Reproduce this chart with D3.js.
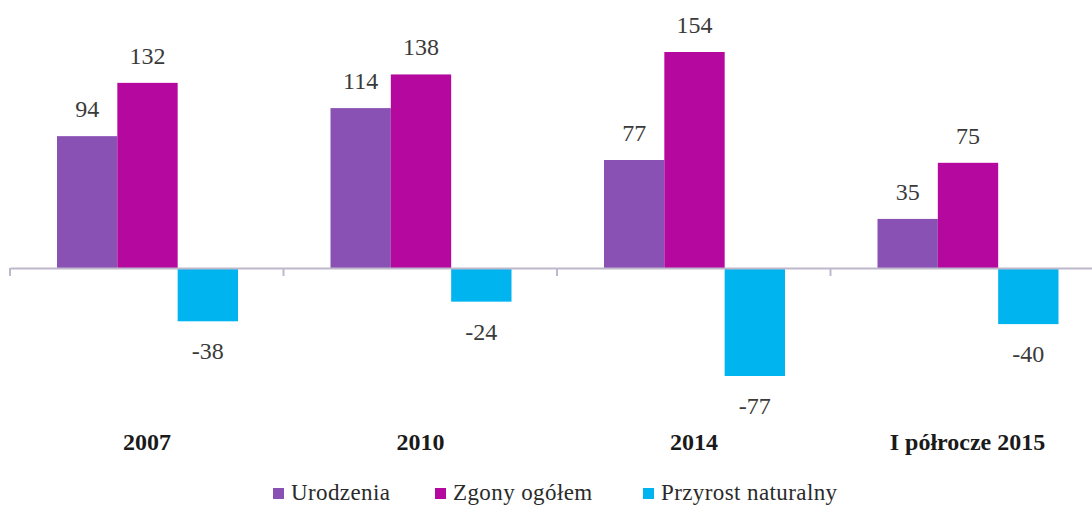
<!DOCTYPE html>
<html>
<head>
<meta charset="utf-8">
<script src="https://cdn.jsdelivr.net/npm/d3@7"></script>
<style>
  body { margin: 0; background: #fff; }
  svg { display: block; }
  text { font-family: "Liberation Serif", "DejaVu Serif", serif; }
</style>
</head>
<body>
<svg id="chart"></svg>
<script>
// data
var categories = ["2007", "2010", "2014", "I półrocze 2015"];
var seriesNames = ["Urodzenia", "Zgony ogółem", "Przyrost naturalny"];
var urodzenia = [94, 114, 77, 35];
var zgony = [132, 138, 154, 75];
var przyrost = [-38, -24, -77, -40];
var colors = ["#8a51b5", "#b5089f", "#00b4f0"];

var width = 1092, height = 506;
var svg = d3.select("#chart").attr("width", width).attr("height", height);

var values = [urodzenia, zgony, przyrost];

var x0 = d3.scaleBand().domain(categories).range([10, 1104]).padding(0);
var x1 = d3.scaleBand().domain(seriesNames).range([47, 228]).padding(0);
var y = d3.scaleLinear().domain([0, 154]).range([268, 52]);

//bars
var groups = svg.selectAll("g.group")
  .data(categories)
  .enter().append("g")
  .attr("class", "group")
  .attr("transform", function (d) { return "translate(" + x0(d) + ",0)"; });

groups.selectAll("rect")
  .data(function (d, i) {
    return seriesNames.map(function (s, j) { return { s: s, v: values[j][i], c: colors[j] }; });
  })
  .enter().append("rect")
  .attr("x", function (d) { return x1(d.s); })
  .attr("width", x1.bandwidth())
  .attr("y", function (d) { return Math.min(y(d.v), y(0)); })
  .attr("height", function (d) { return Math.abs(y(d.v) - y(0)); })
  .attr("fill", function (d) { return d.c; });

groups.selectAll("text.val")
  .data(function (d, i) {
    return seriesNames.map(function (s, j) { return { s: s, v: values[j][i] }; });
  })
  .enter().append("text")
  .attr("class", "val")
  .attr("x", function (d) { return x1(d.s) + x1.bandwidth() / 2; })
  .attr("y", function (d) { return d.v >= 0 ? y(d.v) - 27 : y(d.v) + 30; })
  .attr("text-anchor", "middle")
  .attr("dominant-baseline", "central")
  .attr("font-size", 24)
  .attr("fill", "#3a3a3a")
  .text(function (d) { return d.v; });

//axis at zero
var axis = d3.axisBottom(x0).tickSize(0).tickFormat("");
var ax = svg.append("g").attr("transform", "translate(0," + y(0) + ")").call(axis);
ax.select(".domain").attr("stroke", "#bdb8cc").attr("stroke-width", 2);
ax.selectAll(".tick").remove();
ax.selectAll("line.sep")
  .data(categories)
  .enter().append("line")
  .attr("class", "sep")
  .attr("x1", function (d) { return x0(d); })
  .attr("x2", function (d) { return x0(d); })
  .attr("y1", 0).attr("y2", 8)
  .attr("stroke", "#bdb8cc").attr("stroke-width", 2);

//category labels
svg.selectAll("text.cat")
  .data(categories)
  .enter().append("text")
  .attr("class", "cat")
  .attr("x", function (d) { return x0(d) + 137; })
  .attr("y", 442)
  .attr("text-anchor", "middle")
  .attr("dominant-baseline", "central")
  .attr("font-size", 24)
  .attr("font-weight", "bold")
  .attr("fill", "#1a1a1a")
  .text(function (d) { return d; });

//legend
var legendX = [273, 435, 643];
var lg = svg.selectAll("g.legend")
  .data(seriesNames)
  .enter().append("g")
  .attr("class", "legend")
  .attr("transform", function (d, i) { return "translate(" + legendX[i] + ",500)"; });
lg.append("rect")
  .attr("x", 0).attr("y", -12).attr("width", 11).attr("height", 11)
  .attr("fill", function (d, i) { return colors[i]; });
lg.append("text")
  .attr("x", 18).attr("y", 0)
  .attr("font-size", 23)
  .attr("letter-spacing", 0.4)
  .attr("fill", "#2a2a2a")
  .text(function (d) { return d; });
</script>
</body>
</html>
